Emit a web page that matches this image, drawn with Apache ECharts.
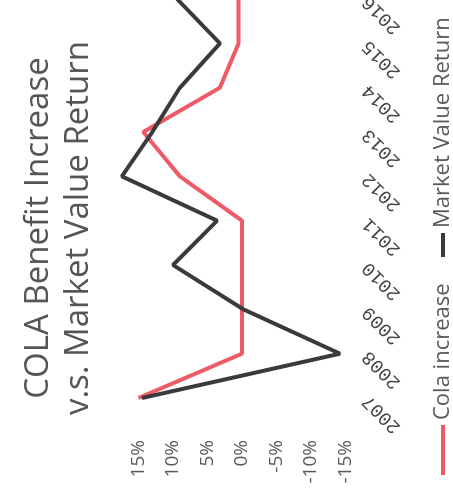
<!DOCTYPE html>
<html><head><meta charset="utf-8">
<script src="https://cdn.jsdelivr.net/npm/echarts@6/dist/echarts.min.js"></script>
<style>
html,body{margin:0;padding:0;width:453px;height:488px;overflow:hidden;background:#fff;}
#wrap{position:absolute;left:0;top:0;width:453px;height:488px;overflow:hidden;}
#c{position:absolute;left:0;top:0;width:520px;height:453px;transform-origin:0 0;transform:translate(0px,488px) rotate(-90deg);}
</style></head>
<body><div id="wrap"><div id="c"></div></div>
<script>
const years = ['2007','2008','2009','2010','2011','2012','2013','2014','2015','2016'];
const colaIncrease = [15.0, 0, 0, 0, 0, 9.0, 14.3, 3.2, 0.5, 0.5];
const marketReturn = [14.5, -14.2, -0.2, 10.0, 3.6, 17.4, 13.0, 9.0, 3.2, 9.4];
const valueTicks = [-15, 20, 5];

const chart = echarts.init(document.getElementById('c'), null, {renderer:'canvas'});
chart.setOption({
  animation:false,
  backgroundColor:'#fff',
  title:{
    text:'COLA Benefit Increase\nv.s. Market Value Return',
    left:'center', top:14,
    textStyle:{fontFamily:'Open Sans', fontSize:33, fontWeight:'normal', color:'#555', lineHeight:40}
  },
  legend:[{
    data:['Cola increase'], left:8, top:427, itemWidth:50, itemHeight:4, itemGap:5,
    icon:'rect',
    textStyle:{fontFamily:'Open Sans', fontSize:22, color:'#595959'}
  },{
    data:['Market Value Return'], left:226, top:427, itemWidth:24, itemHeight:4,
    icon:'rect',
    textStyle:{fontFamily:'Open Sans', fontSize:22, color:'#595959'}
  }],
  grid:{left:90, right:31, top:104, bottom:107.5, containLabel:false},
  xAxis:{
    type:'category', data:years, boundaryGap:false,
    axisLine:{show:false}, axisTick:{show:false}, splitLine:{show:false},
    axisLabel:{rotate:45, margin:20, fontFamily:'Liberation Mono', fontSize:19, color:'#444'}
  },
  yAxis:{
    type:'value', min:valueTicks[0], max:valueTicks[1], interval:valueTicks[2],
    axisLine:{show:false}, axisTick:{show:false}, splitLine:{show:false},
    axisLabel:{showMaxLabel:false, margin:42, fontFamily:'Open Sans', fontSize:19, color:'#595959',
      formatter:v=>v+'%'}
  },
  series:[{
    name:'Cola increase', type:'line', data:colaIncrease, symbol:'none',
    lineStyle:{width:4, color:'#ee5a66'}, itemStyle:{color:'#ee5a66'}, clip:false
  },{
    name:'Market Value Return', type:'line', data:marketReturn, symbol:'none',
    lineStyle:{width:4, color:'#3a3a3a'}, itemStyle:{color:'#3a3a3a'}, clip:false
  }]
});
</script></body></html>
